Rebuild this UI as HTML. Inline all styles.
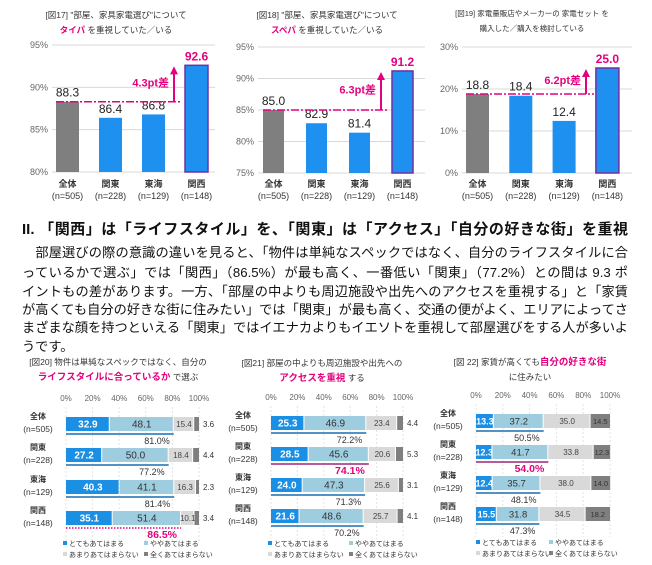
<!DOCTYPE html>
<html><head><meta charset="utf-8">
<style>
html,body{margin:0;padding:0;background:#fff;}
body{width:652px;height:565px;position:relative;overflow:hidden;font-family:"Liberation Sans","Noto Sans CJK JP",sans-serif;}
#chart{position:absolute;left:0;top:0;}
.txt{position:absolute;left:22px;width:606px;white-space:nowrap;color:#111;}
.h{font-weight:bold;font-size:15px;line-height:18px;top:221px;text-align:justify;text-align-last:justify;}
.p{font-size:13.2px;line-height:19px;text-align:justify;text-align-last:justify;}
</style></head>
<body>
<svg id="chart" width="652" height="565" viewBox="0 0 652 565" font-family="Liberation Sans, Noto Sans CJK JP, sans-serif"></svg>
<div class="txt h">II. 「関西」は「ライフスタイル」を、「関東」は「アクセス」「自分の好きな街」を重視</div>
<div class="txt p" style="top:243px">　部屋選びの際の意識の違いを見ると、「物件は単純なスペックではなく、自分のライフスタイルに合</div>
<div class="txt p" style="top:263px">っているかで選ぶ」では「関西」（86.5%）が最も高く、一番低い「関東」（77.2%）との間は 9.3 ポ</div>
<div class="txt p" style="top:282px">イントもの差があります。一方、「部屋の中よりも周辺施設や出先へのアクセスを重視する」と「家賃</div>
<div class="txt p" style="top:300px">が高くても自分の好きな街に住みたい」では「関東」が最も高く、交通の便がよく、エリアによってさ</div>
<div class="txt p" style="top:318px">まざまな顔を持つといえる「関東」ではイエナカよりもイエソトを重視して部屋選びをする人が多いよ</div>
<div class="txt p" style="top:337px;width:auto;text-align-last:auto">うです。</div>
<script>
const categories = ['全体','関東','東海','関西'];
const sampleSizes = ['(n=505)','(n=228)','(n=129)','(n=148)'];
const fig17Values = [88.3, 86.4, 86.8, 92.6];
const fig17Ticks = [80, 85, 90, 95];
const fig18Values = [85.0, 82.9, 81.4, 91.2];
const fig18Ticks = [75, 80, 85, 90, 95];
const fig19Values = [18.8, 18.4, 12.4, 25.0];
const fig19Ticks = [0, 10, 20, 30];
const diffLabels = ['4.3pt差', '6.3pt差', '6.2pt差'];
const pctTicks = [0, 20, 40, 60, 80, 100];
const fig20Very = [32.9, 27.2, 40.3, 35.1];
const fig20Some = [48.1, 50.0, 41.1, 51.4];
const fig20NotMuch = [15.4, 18.4, 16.3, 10.1];
const fig20NotAll = [3.6, 4.4, 2.3, 3.4];
const fig21Very = [25.3, 28.5, 24.0, 21.6];
const fig21Some = [46.9, 45.6, 47.3, 48.6];
const fig21NotMuch = [23.4, 20.6, 25.6, 25.7];
const fig21NotAll = [4.4, 5.3, 3.1, 4.1];
const fig22Very = [13.3, 12.3, 12.4, 15.5];
const fig22Some = [37.2, 41.7, 35.7, 31.8];
const fig22NotMuch = [35.0, 33.8, 38.0, 34.5];
const fig22NotAll = [14.5, 12.3, 14.0, 18.2];
const legendLabels = ['とてもあてはまる','ややあてはまる','あまりあてはまらない','全くあてはまらない'];

const svg = document.getElementById('chart');
const NS = 'http://www.w3.org/2000/svg';
const PINK = '#e4007f';
function el(tag, attrs, parent) {
  const e = document.createElementNS(NS, tag);
  for (const k in attrs) e.setAttribute(k, attrs[k]);
  (parent || svg).appendChild(e);
  return e;
}
function txt(x, y, s, size, fill, anchor, weight, parent) {
  const t = el('text', {x: x, y: y, 'font-size': size, fill: fill, 'text-anchor': anchor || 'middle', 'font-weight': weight || 'normal'}, parent);
  t.textContent = s;
  return t;
}

function barChart(c) {
  const g = el('g', {});
  
  
  const y = v => c.y0 + (v - c.dmin) / (c.dmax - c.dmin) * (c.y1 - c.y0);
  const t1 = txt(c.tx, c.ty, c.title1, c.tsize, '#333', 'middle', 'normal', g);
  
  
  const t2 = el('text', {x: c.tx, y: c.ty + 15, 'font-size': c.tsize, fill: '#333', 'text-anchor': 'middle'}, g);
  
  
  c.title2.forEach(p => { const s = el('tspan', {fill: p[1] ? PINK : '#333', 'font-weight': p[1] ? 'bold' : 'normal'}, t2); s.textContent = p[0]; });
  c.ticks.forEach(tv => {
    const gl = el('line', {x1: c.gx0, x2: c.gx1, y1: y(tv), y2: y(tv), stroke: '#d9d9d9', 'stroke-width': 1}, g);
    
    
    const tl = txt(c.gx0 - 4, y(tv) + 3, tv + '%', 9, '#666', 'end', 'normal', g);
    
    
  });
  c.values.forEach((v, i) => {
    const cx = c.cx0 + i * c.step;
    const last = i === c.values.length - 1;
    const r = el('rect', {x: cx - c.bw / 2, y: y(v), width: c.bw, height: c.y0 - y(v), fill: i === 0 ? '#7f7f7f' : '#1e90f0', stroke: last ? '#7030a0' : 'none', 'stroke-width': last ? 1.5 : 0}, g);
    
    
    const vl = txt(cx, y(v) - 5, v.toFixed(1), 12, last ? PINK : '#222', 'middle', last ? 'bold' : 'normal', g);
    
    
    const cl = txt(cx, 187, categories[i], 9, '#333', 'middle', 'bold', g);
    
    
    const nl = txt(cx, 199, sampleSizes[i], 9, '#333', 'middle', 'normal', g);
    
    
  });
  const base = c.values[0], top = c.values[c.values.length - 1];
  const lx0 = c.cx0 - c.bw / 2;
  const dl = el('line', {x1: lx0, x2: c.ax + 8, y1: y(base), y2: y(base), stroke: PINK, 'stroke-width': 1.5, 'stroke-dasharray': '8,2,2,2'}, g);
  
  
  const al = el('line', {x1: c.ax, x2: c.ax, y1: y(base), y2: y(top) + 8, stroke: PINK, 'stroke-width': 2}, g);
  
  
  const ah = el('path', {d: `M${c.ax - 4},${y(top) + 9} L${c.ax},${y(top) + 1} L${c.ax + 4},${y(top) + 9} Z`, fill: PINK}, g);
  
  
  const dt = txt(c.ax - 5, (y(base) + y(top)) / 2 + 3, c.diff, 11, PINK, 'end', 'bold', g);
  
  
}

barChart({name: 'fig17-chart', values: fig17Values, ticks: fig17Ticks, dmin: 80, dmax: 95, y0: 172, y1: 45, gx0: 52, gx1: 215, cx0: 67.5, step: 43, bw: 23, ax: 174, diff: diffLabels[0], tx: 116, ty: 18, tsize: 8.5,
  title1: '[図17] "部屋、家具家電選び"について', title2: [['タイパ', 1], [' を重視していた／いる', 0]]});
barChart({name: 'fig18-chart', values: fig18Values, ticks: fig18Ticks, dmin: 75, dmax: 95, y0: 173, y1: 47, gx0: 258, gx1: 425, cx0: 273.5, step: 43, bw: 21, ax: 381, diff: diffLabels[1], tx: 327, ty: 18, tsize: 8.5,
  title1: '[図18] "部屋、家具家電選び"について', title2: [['スペパ', 1], [' を重視していた／いる', 0]]});
barChart({name: 'fig19-chart', values: fig19Values, ticks: fig19Ticks, dmin: 0, dmax: 30, y0: 173, y1: 47, gx0: 462, gx1: 632, cx0: 477.5, step: 43.3, bw: 23, ax: 586, diff: diffLabels[2], tx: 532, ty: 16, tsize: 7.5,
  title1: '[図19] 家電量販店やメーカーの 家電セット を', title2: [['購入した／購入を検討している', 0]]});

const segColors = ['#1a8fe3', '#9fcde0', '#d9d9d9', '#7f7f7f'];
function stackChart(c) {
  const g = el('g', {});
  
  
  const x = v => c.x0 + v / 100 * (c.x1 - c.x0);
  c.titles.forEach((line, li) => {
    const t = el('text', {x: c.tx, y: c.ty + li * 15, 'font-size': 8.5, fill: '#333', 'text-anchor': 'middle'}, g);
    
    
    line.forEach(p => { const s = el('tspan', {fill: p[1] ? PINK : '#333', 'font-weight': p[1] ? 'bold' : 'normal', 'font-size': p[1] ? 9.5 : 8.5}, t); s.textContent = p[0]; });
  });
  pctTicks.forEach(tv => {
    const tl = txt(x(tv), c.axY, tv + '%', 8, '#666', 'middle', 'normal', g);
    
    
    const gl = el('line', {x1: x(tv), x2: x(tv), y1: c.axY + 6, y2: c.rowY[3] + 30, stroke: '#e3e3e3', 'stroke-dasharray': '2,2'}, g);
    
    
  });
  categories.forEach((cat, i) => {
    const ry = c.rowY[i];
    const cl = txt(c.x0 - 28, ry + 2, cat, 8, '#333', 'middle', 'bold', g);
    
    
    const nl = txt(c.x0 - 28, ry + 15, sampleSizes[i], 8.5, '#333', 'middle', 'normal', g);
    
    
    let acc = 0;
    const series = [c.very[i], c.some[i], c.notMuch[i], c.notAll[i]];
    series.forEach((v, s) => {
      const r = el('rect', {x: x(acc), y: ry, width: x(acc + v) - x(acc) - (s < 3 ? 1 : 0), height: 14, fill: segColors[s]}, g);
      
      
      const mid = (x(acc) + x(acc + v)) / 2;
      let lab;
      if (s === 0) lab = txt(mid, ry + 10.5, v.toFixed(1), c.outside ? 10 : 9, '#fff', 'middle', 'bold', g);
      else if (s === 1) lab = txt(mid, ry + 10.5, v.toFixed(1), c.outside ? 10 : 9.5, '#333', 'middle', 'normal', g);
      else if (s === 2) lab = txt(mid, ry + 10, v.toFixed(1), 8, '#444', 'middle', 'normal', g);
      else lab = c.outside ? txt(x(acc + v) + 4, ry + 10, v.toFixed(1), 8, '#333', 'start', 'normal', g) : txt(mid, ry + 10, v.toFixed(1), 7.5, '#333', 'middle', 'normal', g);
      
      
      acc += v;
    });
    const sum = c.very[i] + c.some[i];
    const hi = i === c.hi;
    const sl = el('line', {x1: x(0), x2: x(sum), y1: ry + 17, y2: ry + 17, stroke: hi ? (c.dotted ? PINK : '#a0237e') : '#1a6fb0', 'stroke-width': 1.5, 'stroke-dasharray': hi && c.dotted ? '1.5,1.5' : 'none'}, g);
    
    
    const st = txt(x(sum) - 4, ry + 27, sum.toFixed(1) + '%', hi ? 10.5 : 9, hi ? PINK : '#333', 'end', hi ? 'bold' : 'normal', g);
    
    
  });
  legendLabels.forEach((l, k) => {
    const lx = c.legX + (k % 2) * c.legDX, ly = c.legY + Math.floor(k / 2) * 11;
    const sq = el('rect', {x: lx, y: ly - 5, width: 4, height: 4, fill: segColors[k]}, g);
    
    
    const lt = txt(lx + 6, ly, l, 7, '#333', 'start', 'normal', g);
    
    
  });
}
stackChart({name: 'fig20-chart', very: fig20Very, some: fig20Some, notMuch: fig20NotMuch, notAll: fig20NotAll, hi: 3, dotted: true, outside: true,
  x0: 66, x1: 199, axY: 401, rowY: [417, 448, 480, 511], tx: 118, ty: 365, legX: 63, legDX: 81, legY: 546,
  titles: [[['[図20] 物件は単純なスペックではなく、自分の', 0]], [['ライフスタイルに合っているか', 1], [' で選ぶ', 0]]]});
stackChart({name: 'fig21-chart', very: fig21Very, some: fig21Some, notMuch: fig21NotMuch, notAll: fig21NotAll, hi: 1, dotted: false, outside: true,
  x0: 271, x1: 403, axY: 400, rowY: [416, 447, 478, 509], tx: 322, ty: 366, legX: 268, legDX: 81, legY: 546,
  titles: [[['[図21] 部屋の中よりも周辺施設や出先への', 0]], [['アクセスを重視', 1], [' する', 0]]]});
stackChart({name: 'fig22-chart', very: fig22Very, some: fig22Some, notMuch: fig22NotMuch, notAll: fig22NotAll, hi: 1, dotted: false, outside: false,
  x0: 476, x1: 610, axY: 398, rowY: [414, 445, 476, 507], tx: 530, ty: 365, legX: 476, legDX: 73, legY: 545,
  titles: [[['[図 22] 家賃が高くても', 0], ['自分の好きな街', 1]], [['に住みたい', 0]]]});
</script>
</body></html>
